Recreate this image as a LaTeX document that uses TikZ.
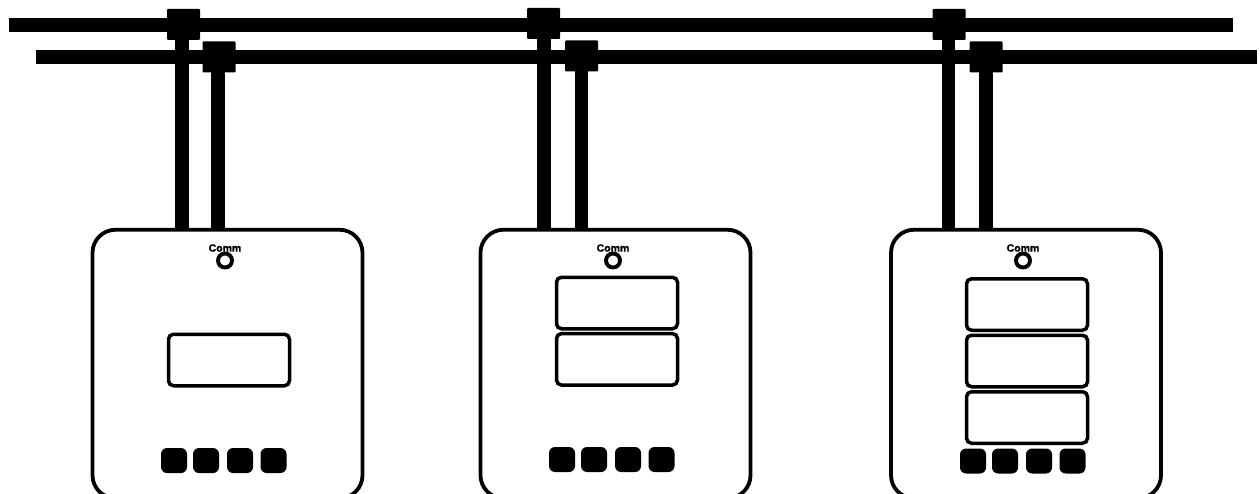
\documentclass[tikz,border=0pt]{standalone}
\usepackage{fontspec}
\setmainfont{Liberation Sans}
\newfontfamily\commfont[FakeBold=1.3]{Liberation Sans Bold}
\tikzset{
  device/.style={draw, line width=3.8pt, rounded corners=23pt, minimum width=270pt, minimum height=268.5pt},
  display/.style={draw, line width=3.5pt, rounded corners=5pt, minimum width=121pt, minimum height=51.5pt},
  button/.style={fill=black, rounded corners=6pt, minimum width=26pt, minimum height=25pt, inner sep=0pt},
  tap/.style={fill=black, rounded corners=1pt, minimum width=33pt, minimum height=31pt, inner sep=0pt, outer sep=0pt},
  led/.style={draw, circle, line width=3.9pt, minimum size=14pt, inner sep=0pt},
  commlabel/.style={font=\commfont\fontsize{10.5}{10.5}\selectfont, inner sep=0pt},
  bus/.style={line width=14pt},
  wire/.style={line width=13.5pt}
}
\begin{document}
\begin{tikzpicture}[x=1pt, y=-1pt]
  \useasboundingbox (0,0) rectangle (1260,494);
  % Two bus lines across the top
  \coordinate (busAstart) at (9,25);
  \coordinate (busAend) at (1233,25);
  \coordinate (busBstart) at (36,57);
  \coordinate (busBend) at (1257,57);
  \draw[bus] (busAstart) -- (busAend);
  \draw[bus] (busBstart) -- (busBend);
  % One meter: box, taps, wires, comm led and four buttons
  \foreach \dev/\boxx/\ledx/\tapa/\tapb/\wirea/\wireb/\tapy/\btnx/\btny in {
      1/227.5/225/183.5/219/182/218/24.5/174/460.5,
      2/615.5/613/543.5/581.5/544/581.3/23.5/562/459.5,
      3/1026/1023/949/986/948.3/986/24.5/973/461} {
    \node[device] (dev\dev) at (\boxx,364) {};
    \node[tap] (tapA\dev) at (\tapa,\tapy) {};
    \node[tap] (tapB\dev) at (\tapb,\tapy+32.5) {};
    \coordinate (wireA\dev) at (\wirea,100);
    \coordinate (wireB\dev) at (\wireb,100);
    \draw[wire] (wireA\dev |- tapA\dev.south) -- (wireA\dev |- dev\dev.north);
    \draw[wire] (wireB\dev |- tapB\dev.south) -- (wireB\dev |- dev\dev.north);
    \node[commlabel] (comm\dev) at (\ledx,248) {Comm};
    \node[led] (led\dev) at (\ledx,260.5) {};
    \node[button] (btnA\dev) at (\btnx,\btny) {};
    \node[button] (btnB\dev) at (\btnx+32,\btny) {};
    \node[button] (btnC\dev) at (\btnx+66,\btny) {};
    \node[button] (btnD\dev) at (\btnx+99.5,\btny) {};
  }
  % Displays differ per meter
  \node[display] (dispA) at (229,360) {};
  \node[display] (dispB) at (617,303) {};
  \node[display] (dispC) at (617,359.3) {};
  \node[display] (dispD) at (1027,304.5) {};
  \node[display] (dispE) at (1027,361) {};
  \node[display] (dispF) at (1027,417.5) {};
\end{tikzpicture}
\end{document}
